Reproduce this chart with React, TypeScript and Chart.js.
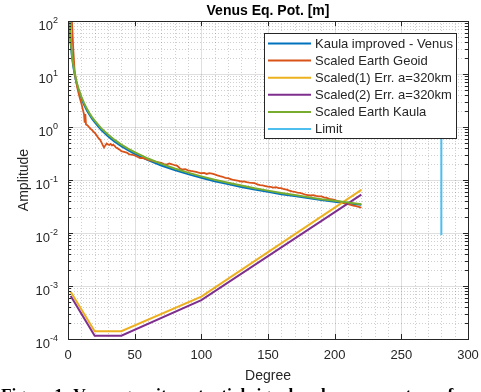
import React, { useEffect, useRef } from "react";
import { Chart, registerables } from "chart.js";
Chart.register(...registerables);

const TITLE = "Venus Eq. Pot. [m]";
const X_LABEL = "Degree";
const Y_LABEL = "Amplitude";
const CAPTION = "Figure 1: Venus gravity potential signal and error spectrum for";

const seriesNames = [
  "Kaula improved - Venus",
  "Scaled Earth Geoid",
  "Scaled(1) Err. a=320km",
  "Scaled(2) Err. a=320km",
  "Scaled Earth Kaula",
  "Limit",
];
const seriesColors = ["#0072BD", "#D95319", "#EDB120", "#7E2F8E", "#77AC30", "#4DBEEE"];

const xTicks = [0, 50, 100, 150, 200, 250, 300];
const yExponents = [-4, -3, -2, -1, 0, 1, 2];

const kaulaDeg = [1, 2, 3, 4, 5, 6, 7, 8, 10, 12, 14, 16, 18, 20, 25, 30, 35, 40, 45, 50, 60, 70, 80, 90, 100, 110, 120, 130, 140, 150, 160, 170, 180, 190, 200, 210, 220];
const kaulaVenus = [110, 39, 21, 13.8, 9.8, 7.5, 5.9, 4.9, 3.5, 2.65, 2.1, 1.72, 1.44, 1.23, 0.88, 0.67, 0.53, 0.435, 0.365, 0.31, 0.237, 0.188, 0.154, 0.129, 0.11, 0.095, 0.084, 0.074, 0.066, 0.06, 0.054, 0.05, 0.0455, 0.042, 0.039, 0.036, 0.034];
const earthKaula = [118, 42, 22.5, 14.8, 10.5, 8, 6.3, 5.2, 3.75, 2.85, 2.25, 1.84, 1.54, 1.32, 0.94, 0.72, 0.57, 0.465, 0.39, 0.335, 0.254, 0.201, 0.165, 0.138, 0.117, 0.101, 0.089, 0.079, 0.07, 0.063, 0.057, 0.052, 0.0475, 0.0435, 0.0405, 0.0375, 0.035];

const geoidDeg = [2, 3, 4, 5, 6, 7, 8, 9, 10, 11, 12, 12.5, 13, 13.5, 14, 15, 16, 17, 18, 19, 20, 21, 22, 23, 24, 25, 26, 27, 28, 29, 30, 31, 32, 33, 34, 35, 36, 37, 38, 39, 40,
  42, 44, 46, 48, 50, 52, 54, 56, 58, 60, 62, 64, 66, 68, 70, 72, 74, 76, 78, 80, 82, 84, 86, 88, 90, 92, 94, 96, 98, 100,
  102, 104, 106, 108, 110, 112, 114, 116, 118, 120, 122, 124, 126, 128, 130, 132, 134, 136, 138, 140, 142, 144, 146, 148, 150,
  152, 154, 156, 158, 160, 162, 164, 166, 168, 170, 172, 174, 176, 178, 180, 182, 184, 186, 188, 190, 192, 194, 196, 198, 200,
  202, 204, 206, 208, 210, 212, 214, 216, 218, 220];
const earthGeoid = [500, 95, 28, 11, 7.5, 5.5, 4.3, 3.4, 2.8, 2.2, 1.75, 1.2, 1.75, 1.12, 1.1, 1.05, 0.98, 0.92, 0.88, 0.82, 0.78, 0.72, 0.66, 0.61, 0.58, 0.52, 0.46, 0.41, 0.45, 0.49, 0.47, 0.46, 0.48, 0.45, 0.46, 0.44, 0.41, 0.4, 0.38, 0.37, 0.35,
  0.34, 0.33, 0.305, 0.3, 0.29, 0.275, 0.26, 0.262, 0.25, 0.24, 0.235, 0.228, 0.22, 0.215, 0.21, 0.2, 0.195, 0.205, 0.198, 0.19, 0.185, 0.165, 0.158, 0.16, 0.152, 0.148, 0.145, 0.142, 0.138, 0.134,
  0.136, 0.13, 0.135, 0.132, 0.128, 0.122, 0.118, 0.115, 0.11, 0.108, 0.104, 0.1, 0.098, 0.096, 0.093, 0.094, 0.091, 0.089, 0.088, 0.087, 0.083, 0.08, 0.079, 0.077, 0.075,
  0.074, 0.072, 0.073, 0.07, 0.07, 0.067, 0.066, 0.063, 0.061, 0.06, 0.058, 0.057, 0.055, 0.053, 0.052, 0.051, 0.052, 0.05, 0.049, 0.049, 0.047, 0.046, 0.044, 0.043, 0.042,
  0.04, 0.039, 0.037, 0.036, 0.035, 0.034, 0.033, 0.032, 0.031, 0.03];

const errDeg = [2, 20, 40, 100, 220];
const err1 = [7.8e-4, 1.4e-4, 1.4e-4, 6.3e-4, 0.065];
const err2 = [6.5e-4, 1.15e-4, 1.15e-4, 5.4e-4, 0.053];

const limitDeg = [280, 280];
const limitVals = [0.0091, 10];

const AX = "#262626";
const FONT = '"Liberation Sans", Arial, sans-serif';

function pts(xs: number[], ys: number[]) {
  return xs.map((x, i) => ({ x, y: ys[i] }));
}

const decorPlugin = {
  id: "decor",
  beforeDatasetsDraw(chart: any) {
    const { ctx, chartArea: a, scales } = chart;
    const xs = scales.x, ys = scales.y;
    ctx.save();
    ctx.strokeStyle = "rgba(38,38,38,0.22)";
    ctx.lineWidth = 1;
    ctx.setLineDash([1, 2]);
    ctx.beginPath();
    for (let v = 10; v < 300; v += 10) {
      if (v % 50 === 0) continue;
      const px = Math.round(xs.getPixelForValue(v)) + 0.5;
      ctx.moveTo(px, a.top);
      ctx.lineTo(px, a.bottom);
    }
    for (let e = -4; e < 2; e++) {
      for (let m = 2; m <= 9; m++) {
        const py = Math.round(ys.getPixelForValue(m * Math.pow(10, e))) + 0.5;
        ctx.moveTo(a.left, py);
        ctx.lineTo(a.right, py);
      }
    }
    ctx.stroke();
    ctx.setLineDash([]);
    ctx.strokeStyle = "rgba(38,38,38,0.15)";
    ctx.beginPath();
    xTicks.forEach((v) => {
      const px = Math.round(xs.getPixelForValue(v)) + 0.5;
      ctx.moveTo(px, a.top);
      ctx.lineTo(px, a.bottom);
    });
    yExponents.forEach((e) => {
      const py = Math.round(ys.getPixelForValue(Math.pow(10, e))) + 0.5;
      ctx.moveTo(a.left, py);
      ctx.lineTo(a.right, py);
    });
    ctx.stroke();
    ctx.restore();
  },
  afterDatasetsDraw(chart: any) {
    const { ctx, chartArea: a, scales } = chart;
    const xs = scales.x, ys = scales.y;
    ctx.save();
    ctx.strokeStyle = AX;
    ctx.lineWidth = 1;
    ctx.strokeRect(Math.round(a.left) + 0.5, Math.round(a.top) + 0.5, Math.round(a.right - a.left), Math.round(a.bottom - a.top));
    ctx.beginPath();
    xTicks.forEach((v) => {
      const px = Math.round(xs.getPixelForValue(v)) + 0.5;
      ctx.moveTo(px, a.bottom);
      ctx.lineTo(px, a.bottom - 5);
      ctx.moveTo(px, a.top);
      ctx.lineTo(px, a.top + 5);
    });
    for (let e = -4; e <= 2; e++) {
      const py = Math.round(ys.getPixelForValue(Math.pow(10, e))) + 0.5;
      ctx.moveTo(a.left, py);
      ctx.lineTo(a.left + 5, py);
      ctx.moveTo(a.right, py);
      ctx.lineTo(a.right - 5, py);
      if (e < 2) {
        for (let m = 2; m <= 9; m++) {
          const pm = Math.round(ys.getPixelForValue(m * Math.pow(10, e))) + 0.5;
          ctx.moveTo(a.left, pm);
          ctx.lineTo(a.left + 3, pm);
          ctx.moveTo(a.right, pm);
          ctx.lineTo(a.right - 3, pm);
        }
      }
    }
    ctx.stroke();

    ctx.fillStyle = AX;
    ctx.font = `13px ${FONT}`;
    ctx.textAlign = "center";
    ctx.textBaseline = "middle";
    xTicks.forEach((v) => {
      ctx.fillText(String(v), xs.getPixelForValue(v), a.bottom + 16);
    });
    yExponents.forEach((e) => {
      const py = ys.getPixelForValue(Math.pow(10, e));
      const expStr = e < 0 ? "-" + Math.abs(e) : String(e);
      ctx.font = `9px ${FONT}`;
      const we = ctx.measureText(expStr).width;
      ctx.font = `13px ${FONT}`;
      const wb = ctx.measureText("10").width;
      const right = a.left - 10;
      ctx.textAlign = "left";
      ctx.textBaseline = "alphabetic";
      ctx.fillText("10", right - we - wb, py + 9);
      ctx.font = `9px ${FONT}`;
      ctx.fillText(expStr, right - we, py + 2);
    });

    ctx.font = `14px ${FONT}`;
    ctx.textAlign = "center";
    ctx.textBaseline = "middle";
    ctx.fillText(X_LABEL, (a.left + a.right) / 2, a.bottom + 37);
    ctx.save();
    ctx.translate(24, (a.top + a.bottom) / 2);
    ctx.rotate(-Math.PI / 2);
    ctx.fillText(Y_LABEL, 0, 0);
    ctx.restore();
    ctx.font = `bold 14px ${FONT}`;
    ctx.fillStyle = "#000";
    ctx.fillText(TITLE, (a.left + a.right) / 2, a.top - 10);

    const lx = 264.5, ly = 33.5, lw = 192, lh = 105;
    ctx.fillStyle = "#fff";
    ctx.fillRect(lx, ly, lw, lh);
    ctx.strokeStyle = AX;
    ctx.lineWidth = 1;
    ctx.strokeRect(lx, ly, lw, lh);
    ctx.font = `13px ${FONT}`;
    ctx.textAlign = "left";
    ctx.textBaseline = "middle";
    seriesNames.forEach((name, i) => {
      const yy = 43.5 + i * 17.1;
      ctx.strokeStyle = seriesColors[i];
      ctx.lineWidth = 2;
      ctx.beginPath();
      ctx.moveTo(268, yy);
      ctx.lineTo(311, yy);
      ctx.stroke();
      ctx.fillStyle = AX;
      ctx.fillText(name, 315, yy + 0.5);
    });

    ctx.fillStyle = "#000";
    ctx.font = `bold 17.4px "Liberation Serif", "Times New Roman", serif`;
    ctx.textAlign = "left";
    ctx.textBaseline = "alphabetic";
    ctx.fillText(CAPTION, 1, 400);
    ctx.restore();
  },
};

export default function App() {
  const ref = useRef<HTMLCanvasElement>(null);
  useEffect(() => {
    if (!ref.current) return;
    const mk = (i: number, data: any[], width = 2) => ({
      label: seriesNames[i],
      data,
      borderColor: seriesColors[i],
      backgroundColor: seriesColors[i],
      borderWidth: width,
      pointRadius: 0,
      tension: 0,
      fill: false,
      order: 10 - i,
    });
    const chart = new Chart(ref.current, {
      type: "line",
      data: {
        datasets: [
          mk(0, pts(kaulaDeg, kaulaVenus)),
          mk(1, pts(geoidDeg, earthGeoid), 1.8),
          mk(2, pts(errDeg, err1)),
          mk(3, pts(errDeg, err2)),
          mk(4, pts(kaulaDeg, earthKaula)),
          mk(5, pts(limitDeg, limitVals)),
        ],
      },
      options: {
        animation: false,
        responsive: false,
        devicePixelRatio: 1,
        layout: { padding: { left: 0, right: 13, top: 21, bottom: 0 } },
        plugins: { legend: { display: false }, tooltip: { enabled: false }, title: { display: false } },
        scales: {
          x: {
            type: "linear",
            min: 0,
            max: 300,
            grid: { display: false },
            border: { display: false },
            ticks: { display: false, stepSize: 50 },
            afterFit: (s: any) => { s.height = 53; },
          },
          y: {
            type: "logarithmic",
            min: 1e-4,
            max: 100,
            grid: { display: false },
            border: { display: false },
            ticks: { display: false },
            afterFit: (s: any) => { s.width = 68; },
          },
        },
      } as any,
      plugins: [decorPlugin],
    });
    return () => chart.destroy();
  }, []);
  return (
    <div style={{ position: "fixed", left: 0, top: 0, width: 481, height: 392, overflow: "hidden", background: "#fff" }}>
      <canvas ref={ref} width={481} height={392} style={{ display: "block", width: 481, height: 392 }} />
    </div>
  );
}
